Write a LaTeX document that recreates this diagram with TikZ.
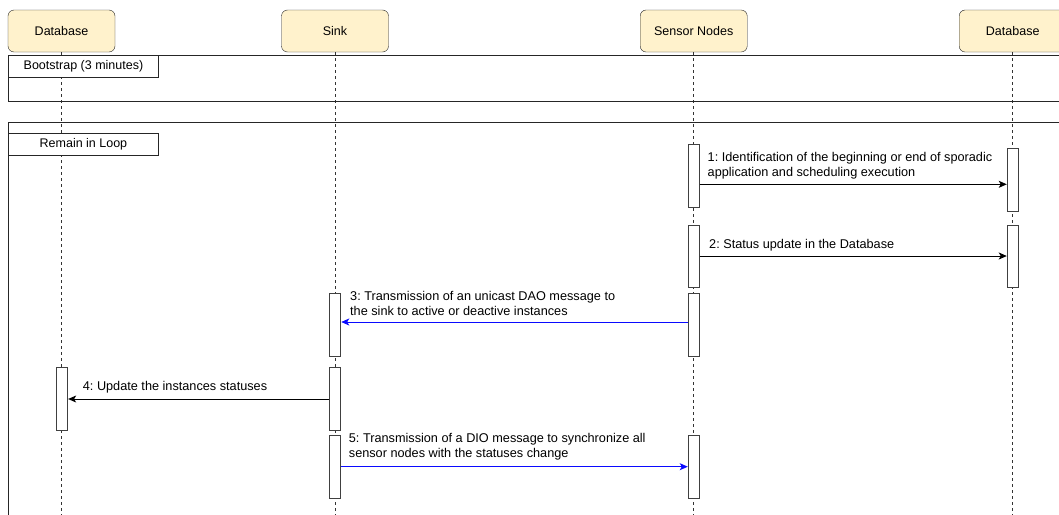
\documentclass[tikz,border=0pt]{standalone}
\usepackage{fontspec}
\setmainfont{Liberation Sans}
\usetikzlibrary{arrows.meta}
\frenchspacing
\definecolor{hdrfill}{HTML}{FFF2CC}
\definecolor{msgblue}{HTML}{0A0AFF}
\tikzset{
  hdr/.style={draw=black!85, fill=hdrfill, rounded corners=6pt, minimum width=107pt, minimum height=42pt, inner sep=0pt, font=\fontsize{12.5}{14}\selectfont},
  lifeline/.style={draw=black!80, dash pattern=on 3pt off 3pt, line width=0.8pt},
  bar/.style={draw=black!75, fill=white, minimum width=11pt, inner sep=0pt, line width=0.9pt, anchor=north},
  frm/.style={draw=black!85, line width=0.9pt},
  frmlabel/.style={draw=black!85, fill=white, line width=0.9pt, minimum width=150pt, minimum height=22pt, inner sep=0pt, anchor=north west, font=\fontsize{12.5}{14}\selectfont},
  msg/.style={draw=black, line width=0.9pt, -{Stealth[length=8pt,width=7pt,inset=2pt]}},
  msgb/.style={draw=msgblue, line width=0.9pt, -{Stealth[length=8pt,width=7pt,inset=2pt]}, fill=msgblue},
  lbl/.style={anchor=west, align=left, inner sep=0pt, font=\fontsize{12.7}{15}\selectfont}
}
\begin{document}
\begin{tikzpicture}[x=1pt,y=-1pt]
\useasboundingbox (0,0) rectangle (1059,514);
\clip (0,0) rectangle (1059,514);
% headers
\node[hdr] (db1) at (61.5,31) {Database};
\node[hdr] (sink) at (335,31) {Sink};
\node[hdr] (sens) at (693.7,31) {Sensor Nodes};
\node[hdr] (db2) at (1012.7,31) {Database};
% lifelines
\draw[lifeline] (db1.south) -- (db1.south |- 0,520);
\draw[lifeline] (sink.south) -- (sink.south |- 0,520);
\draw[lifeline] (sens.south) -- (sens.south |- 0,520);
\draw[lifeline] (db2.south) -- (db2.south |- 0,520);
% frames
\draw[frm] (1075,55) -- (8,55) -- (8,101) -- (1075,101);
\node[frmlabel] (bootlbl) at (8,55) {Bootstrap (3 minutes)};
\draw[frm] (1075,122) -- (8,122) -- (8,530);
\node[frmlabel] (looplbl) at (8,133) {Remain in Loop};
% activation bars
\node[bar, minimum height=62.7pt] (a1) at (693.7,144) {};
\node[bar, minimum height=62.3pt] (a2) at (693.7,225) {};
\node[bar, minimum height=62.7pt] (a3) at (693.7,293) {};
\node[bar, minimum height=63.3pt] (a5) at (693.7,435) {};
\node[bar, minimum height=62.4pt] (d1) at (1012.7,148.3) {};
\node[bar, minimum height=62.3pt] (d2) at (1012.7,225) {};
\node[bar, minimum height=62.7pt] (s3) at (335.3,293) {};
\node[bar, minimum height=63pt] (s4) at (335.3,367.3) {};
\node[bar, minimum height=62.7pt] (s5) at (335.3,435.3) {};
\node[bar, minimum height=63pt] (b4) at (62.2,367.3) {};
% messages
\draw[msg] (a1.east |- 0,184.3) -- (d1.west |- 0,184.3);
\node[lbl] (l1) at (707.5,165.5) {1: Identification of the beginning or end of sporadic\\application and scheduling execution};
\draw[msg] (a2.east |- 0,256) -- (d2.west |- 0,256);
\node[lbl] (l2) at (709,245) {2: Status update in the Database};
\draw[msgb] (a3.west |- 0,322) -- (s3.east |- 0,322);
\node[lbl] (l3) at (350,303.5) {3: Transmission of an unicast DAO message to\\the sink to active or deactive instances};
\draw[msg] (s4.west |- 0,399) -- (b4.east |- 0,399);
\node[lbl] (l4) at (82.7,387.5) {4: Update the instances statuses};
\draw[msgb] (s5.east |- 0,466.7) -- (a5.west |- 0,466.7);
\node[lbl] (l5) at (348.7,447) {5: Transmission of a DIO message to synchronize all\\sensor nodes with the statuses change};
\end{tikzpicture}
\end{document}
